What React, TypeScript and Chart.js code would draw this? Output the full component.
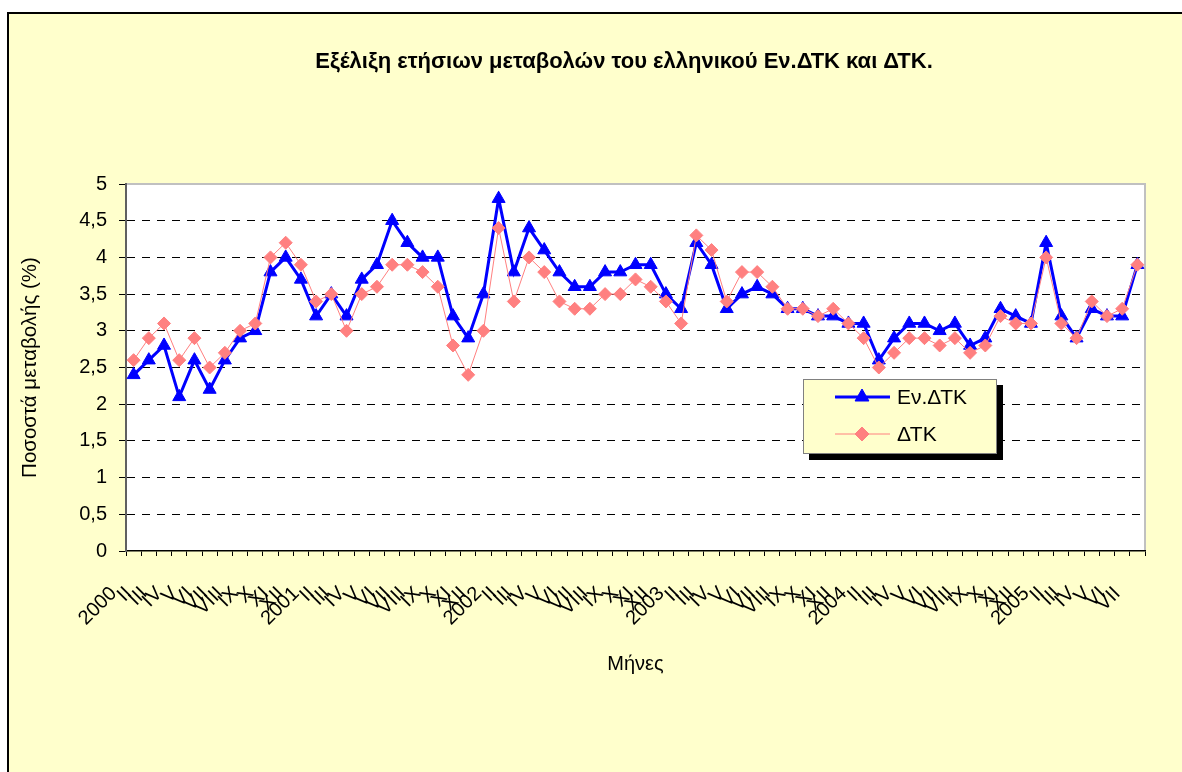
import React, { useEffect, useRef } from 'react';
import { Chart, registerables } from 'chart.js';

Chart.register(...registerables);

const TITLE = 'Εξέλιξη ετήσιων μεταβολών του ελληνικού Εν.ΔΤΚ και ΔΤΚ.';
const X_TITLE = 'Μήνες';
const Y_TITLE = 'Ποσοστά μεταβολής (%)';

const YEARS = ['2000', '2001', '2002', '2003', '2004', '2005'];
const MONTH_NUMERALS = ['I', 'II', 'III', 'IV', 'V', 'VI', 'VII', 'VIII', 'IX', 'X', 'XI', 'XII'];
const MONTHS_IN_LAST_YEAR = 7;

const categories: string[] = [];
YEARS.forEach((y, yi) => {
  const n = yi === YEARS.length - 1 ? MONTHS_IN_LAST_YEAR : 12;
  for (let m = 0; m < n; m++) categories.push(m === 0 ? y : MONTH_NUMERALS[m]);
});

const SERIES_NAMES = ['Εν.ΔΤΚ', 'ΔΤΚ'];

// Εν.ΔΤΚ (harmonised index) annual change, %
const HICP = [
  2.4, 2.6, 2.8, 2.1, 2.6, 2.2, 2.6, 2.9, 3.0, 3.8, 4.0, 3.7,
  3.2, 3.5, 3.2, 3.7, 3.9, 4.5, 4.2, 4.0, 4.0, 3.2, 2.9, 3.5,
  4.8, 3.8, 4.4, 4.1, 3.8, 3.6, 3.6, 3.8, 3.8, 3.9, 3.9, 3.5,
  3.3, 4.2, 3.9, 3.3, 3.5, 3.6, 3.5, 3.3, 3.3, 3.2, 3.2, 3.1,
  3.1, 2.6, 2.9, 3.1, 3.1, 3.0, 3.1, 2.8, 2.9, 3.3, 3.2, 3.1,
  4.2, 3.2, 2.9, 3.3, 3.2, 3.2, 3.9,
];

// ΔΤΚ annual change, %
const CPI = [
  2.6, 2.9, 3.1, 2.6, 2.9, 2.5, 2.7, 3.0, 3.1, 4.0, 4.2, 3.9,
  3.4, 3.5, 3.0, 3.5, 3.6, 3.9, 3.9, 3.8, 3.6, 2.8, 2.4, 3.0,
  4.4, 3.4, 4.0, 3.8, 3.4, 3.3, 3.3, 3.5, 3.5, 3.7, 3.6, 3.4,
  3.1, 4.3, 4.1, 3.4, 3.8, 3.8, 3.6, 3.3, 3.3, 3.2, 3.3, 3.1,
  2.9, 2.5, 2.7, 2.9, 2.9, 2.8, 2.9, 2.7, 2.8, 3.2, 3.1, 3.1,
  4.0, 3.1, 2.9, 3.4, 3.2, 3.3, 3.9,
];

const Y_MIN = 0;
const Y_MAX = 5;
const Y_STEP = 0.5;

const FONT = '"Liberation Sans", Arial, sans-serif';
const BLUE = '#0000FF';
const PINK = '#FF8080';

const W = 1182;
const H = 772;

function drawMarker(ctx: CanvasRenderingContext2D, style: string, x: number, y: number, r: number, color: string) {
  ctx.save();
  ctx.fillStyle = color;
  ctx.strokeStyle = color;
  ctx.lineWidth = 1;
  ctx.beginPath();
  if (style === 'triangle') {
    ctx.moveTo(x, y - r);
    ctx.lineTo(x + r * Math.sin((2 * Math.PI) / 3), y - r * Math.cos((2 * Math.PI) / 3));
    ctx.lineTo(x + r * Math.sin((4 * Math.PI) / 3), y - r * Math.cos((4 * Math.PI) / 3));
  } else {
    ctx.moveTo(x - r, y);
    ctx.lineTo(x, y - r);
    ctx.lineTo(x + r, y);
    ctx.lineTo(x, y + r);
  }
  ctx.closePath();
  ctx.fill();
  ctx.stroke();
  ctx.restore();
}

const plotFramePlugin = {
  id: 'plotFrame',
  beforeDraw(chart: any) {
    const { ctx, chartArea: a } = chart;
    ctx.save();
    ctx.fillStyle = '#FFFFFF';
    ctx.fillRect(a.left, a.top, a.right - a.left, a.bottom - a.top);
    ctx.strokeStyle = '#C0C0C0';
    ctx.lineWidth = 2;
    ctx.beginPath();
    ctx.moveTo(a.left, a.top);
    ctx.lineTo(a.right, a.top);
    ctx.lineTo(a.right, a.bottom);
    ctx.stroke();
    ctx.restore();
  },
};

const titlePlugin = {
  id: 'fixedTitle',
  afterDraw(chart: any) {
    const { ctx } = chart;
    ctx.save();
    ctx.font = `bold 22px ${FONT}`;
    ctx.fillStyle = '#000';
    ctx.textAlign = 'center';
    ctx.textBaseline = 'middle';
    ctx.fillText(TITLE, 624, 62);
    ctx.restore();
  },
};

const boxLegendPlugin = {
  id: 'boxLegend',
  afterDraw(chart: any) {
    const { ctx } = chart;
    const bx = 803, by = 379, bw = 194, bh = 75;
    ctx.save();
    ctx.fillStyle = '#000';
    ctx.fillRect(bx + 6, by + 6, bw, bh);
    ctx.fillStyle = '#FFFFCC';
    ctx.fillRect(bx, by, bw, bh);
    ctx.strokeStyle = '#808080';
    ctx.lineWidth = 1;
    ctx.strokeRect(bx + 0.5, by + 0.5, bw - 1, bh - 1);
    chart.data.datasets.forEach((ds: any, i: number) => {
      const y = by + 18 + i * 37;
      ctx.strokeStyle = ds.borderColor;
      ctx.lineWidth = ds.borderWidth;
      ctx.beginPath();
      ctx.moveTo(835, y);
      ctx.lineTo(890, y);
      ctx.stroke();
      drawMarker(ctx, ds.pointStyle, 862, y, ds.pointRadius + 0.5, ds.pointBackgroundColor);
      ctx.fillStyle = '#000';
      ctx.font = `21px ${FONT}`;
      ctx.textAlign = 'left';
      ctx.textBaseline = 'middle';
      ctx.fillText(ds.label, 897, y + 1);
    });
    ctx.restore();
  },
};

export default function App() {
  const ref = useRef<HTMLCanvasElement | null>(null);

  useEffect(() => {
    if (!ref.current) return;
    const chart = new Chart(ref.current, {
      type: 'line',
      data: {
        labels: categories,
        datasets: [
          {
            label: SERIES_NAMES[0],
            data: HICP,
            borderColor: BLUE,
            backgroundColor: BLUE,
            pointBackgroundColor: BLUE,
            pointBorderColor: BLUE,
            borderWidth: 3,
            pointStyle: 'triangle',
            pointRadius: 7.5,
            pointBorderWidth: 1,
            tension: 0,
            order: 1,
          },
          {
            label: SERIES_NAMES[1],
            data: CPI,
            borderColor: PINK,
            backgroundColor: PINK,
            pointBackgroundColor: PINK,
            pointBorderColor: PINK,
            borderWidth: 1,
            pointStyle: 'rectRot',
            pointRadius: 6.5,
            pointBorderWidth: 1,
            tension: 0,
            order: 0,
          },
        ],
      },
      options: {
        responsive: false,
        animation: false,
        devicePixelRatio: 1,
        layout: { padding: { left: 8, top: 184, right: 37, bottom: 0 } },
        plugins: {
          legend: { display: false },
          title: { display: false },
          tooltip: { enabled: false },
        },
        scales: {
          x: {
            type: 'category',
            offset: true,
            afterFit: (s: any) => { s.height = H - 551; },
            grid: {
              offset: true,
              drawOnChartArea: false,
              drawTicks: true,
              tickLength: 5,
              tickColor: '#000',
              tickWidth: 1,
            },
            border: { display: true, color: '#000', width: 1.5 },
            ticks: {
              autoSkip: false,
              minRotation: 45,
              maxRotation: 45,
              padding: 26,
              labelOffset: -20,
              color: '#000',
              font: { family: FONT, size: 20 },
            },
            title: {
              display: true,
              text: X_TITLE,
              color: '#000',
              font: { family: FONT, size: 20 },
              padding: { top: 0, bottom: 96 },
            },
          },
          y: {
            min: Y_MIN,
            max: Y_MAX,
            afterFit: (s: any) => { s.width = 126 - 8; },
            grid: {
              drawOnChartArea: true,
              drawTicks: true,
              tickLength: 7,
              tickColor: '#000',
              tickWidth: 1,
              lineWidth: 1,
              color: (c: any) => (c.tick && (c.tick.value === Y_MIN || c.tick.value === Y_MAX) ? 'rgba(0,0,0,0)' : '#000'),
            },
            border: { display: true, color: '#606060', width: 2, dash: [8, 7] },
            ticks: {
              stepSize: Y_STEP,
              padding: 12,
              color: '#000',
              font: { family: FONT, size: 20 },
              callback: (v: any) => String(v).replace('.', ','),
            },
            title: {
              display: true,
              text: Y_TITLE,
              color: '#000',
              font: { family: FONT, size: 20.5 },
              padding: { top: 10, bottom: 0 },
            },
          },
        },
      },
      plugins: [plotFramePlugin, titlePlugin, boxLegendPlugin],
    } as any);
    return () => chart.destroy();
  }, []);

  return (
    <div style={{ position: 'fixed', left: 0, top: 0, width: W, height: H, overflow: 'hidden', background: '#FFFFFF' }}>
      <div
        style={{
          position: 'absolute',
          left: 7,
          top: 12,
          width: 1200,
          height: 800,
          border: '2px solid #000',
          background: '#FFFFCC',
          boxSizing: 'border-box',
        }}
      />
      <canvas ref={ref} width={W} height={H} style={{ position: 'absolute', left: 0, top: 0, width: W, height: H }} />
    </div>
  );
}
